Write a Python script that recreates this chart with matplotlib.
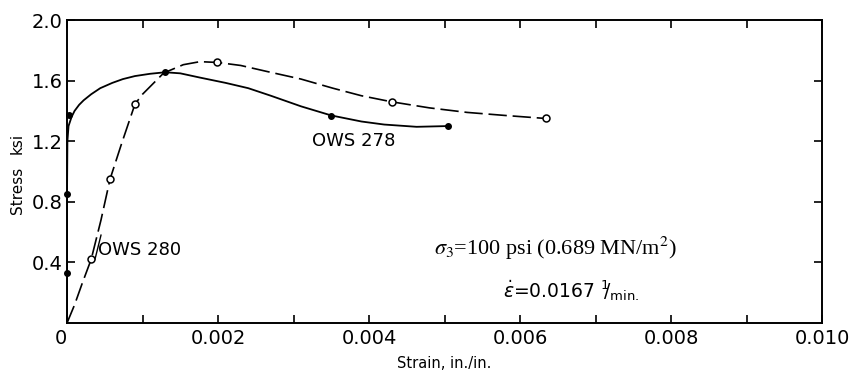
import numpy as np
import matplotlib.pyplot as plt
from matplotlib.ticker import MultipleLocator, FixedLocator

# OWS 278 - solid curve, filled points (strain in./in., stress ksi)
ows278_curve_x = [0, 0, 0.000005, 0.00002, 0.00006, 0.0001, 0.00016, 0.00022,
                  0.00032, 0.00044, 0.0006, 0.00074, 0.0009, 0.0011, 0.0013,
                  0.0015, 0.00176, 0.0021, 0.0024, 0.0027, 0.0031, 0.0035,
                  0.0039, 0.0042, 0.00463, 0.00505]
ows278_curve_y = [0, 0.85, 1.20, 1.30, 1.36, 1.40, 1.44, 1.47,
                  1.51, 1.55, 1.585, 1.61, 1.63, 1.645, 1.655,
                  1.648, 1.62, 1.585, 1.55, 1.50, 1.43, 1.37,
                  1.33, 1.31, 1.295, 1.30]
ows278_pts_x = [0, 0, 0.00002, 0.0013, 0.0035, 0.00505]
ows278_pts_y = [0.33, 0.85, 1.37, 1.655, 1.365, 1.30]

# OWS 280 - dashed curve, open points
ows280_curve_x = [0, 0.0001, 0.0002, 0.00032, 0.00045, 0.00057, 0.00072,
                  0.0009, 0.001, 0.0011, 0.00128, 0.00154, 0.00176, 0.00199,
                  0.0023, 0.00265, 0.0031, 0.00352, 0.0039, 0.0043, 0.0048,
                  0.0053, 0.0058, 0.00634]
ows280_curve_y = [0, 0.12, 0.26, 0.42, 0.68, 0.95, 1.18,
                  1.445, 1.51, 1.56, 1.65, 1.705, 1.725, 1.72,
                  1.70, 1.66, 1.61, 1.55, 1.50, 1.46, 1.42,
                  1.39, 1.37, 1.35]
ows280_pts_x = [0.00032, 0.00057, 0.0009, 0.00199, 0.0043, 0.00634]
ows280_pts_y = [0.42, 0.95, 1.445, 1.72, 1.46, 1.35]

xtick_vals = [0, 0.002, 0.004, 0.006, 0.008, 0.010]
xtick_labels = ['0', '0.002', '0.004', '0.006', '0.008', '0.010']
ytick_vals = [0.4, 0.8, 1.2, 1.6, 2.0]
ytick_labels = ['0.4', '0.8', '1.2', '1.6', '2.0']

plt.rcParams['font.family'] = ['DejaVu Sans']

fig = plt.figure(figsize=(8.56, 3.74), dpi=100)
ax = fig.add_axes([0.0783, 0.1364, 0.8820, 0.8101])

ax.plot(ows278_curve_x, ows278_curve_y, color='black', lw=1.3,
        solid_joinstyle='round', zorder=3)
ax.plot(ows278_pts_x, ows278_pts_y, 'o', color='black', ms=4, zorder=4,
        clip_on=False)

ax.plot(ows280_curve_x, ows280_curve_y, color='black', lw=1.2,
        dashes=(11, 3.5), zorder=3)
ax.plot(ows280_pts_x, ows280_pts_y, 'o', mfc='white', mec='black', mew=1.1,
        ms=5, zorder=4)

ax.set_xlim(0, 0.010)
ax.set_ylim(0, 2.0)

ax.xaxis.set_major_locator(FixedLocator(xtick_vals))
ax.set_xticklabels(xtick_labels, fontsize=14)
ax.xaxis.set_minor_locator(MultipleLocator(0.001))
ax.yaxis.set_major_locator(FixedLocator(ytick_vals))
ax.set_yticklabels(ytick_labels, fontsize=14)

ax.tick_params(which='both', direction='in', top=True, right=True,
               length=6, width=1.2, pad=3)
ax.tick_params(axis='x', pad=4)
for lab in ax.get_xticklabels():
    if lab.get_text() == '0':
        lab.set_horizontalalignment('right')
for sp in ax.spines.values():
    sp.set_linewidth(1.4)

ax.set_xlabel('Strain, in./in.', fontsize=10.5, labelpad=6)
fig.text(0.020, 1 - 190 / 374, 'Stress', rotation=90, fontsize=11,
         ha='center', va='center')
fig.text(0.020, 1 - 143 / 374, 'ksi', rotation=90, fontsize=11,
         ha='center', va='center')

# curve labels
ax.text(0.00041, 0.48, 'OWS 280', fontsize=13, ha='left', va='center')
ax.plot([0.00037, 0.00045], [0.42, 0.58], color='black', lw=1.0)
ax.text(0.00380, 1.20, 'OWS 278', fontsize=13, ha='center', va='center')

ax.text(0.00647, 0.495, r'$\sigma_3$=100 psi (0.689 MN/m$^2$)',
        fontsize=16, family='Liberation Serif', math_fontfamily='stix',
        ha='center', va='center')
ax.text(0.00668, 0.215, r'$\dot{\epsilon}$=0.0167 $^{1}\!\!/_{\mathrm{min.}}$',
        fontsize=13.5, ha='center', va='center')

fig.savefig('out.png', dpi=100)
